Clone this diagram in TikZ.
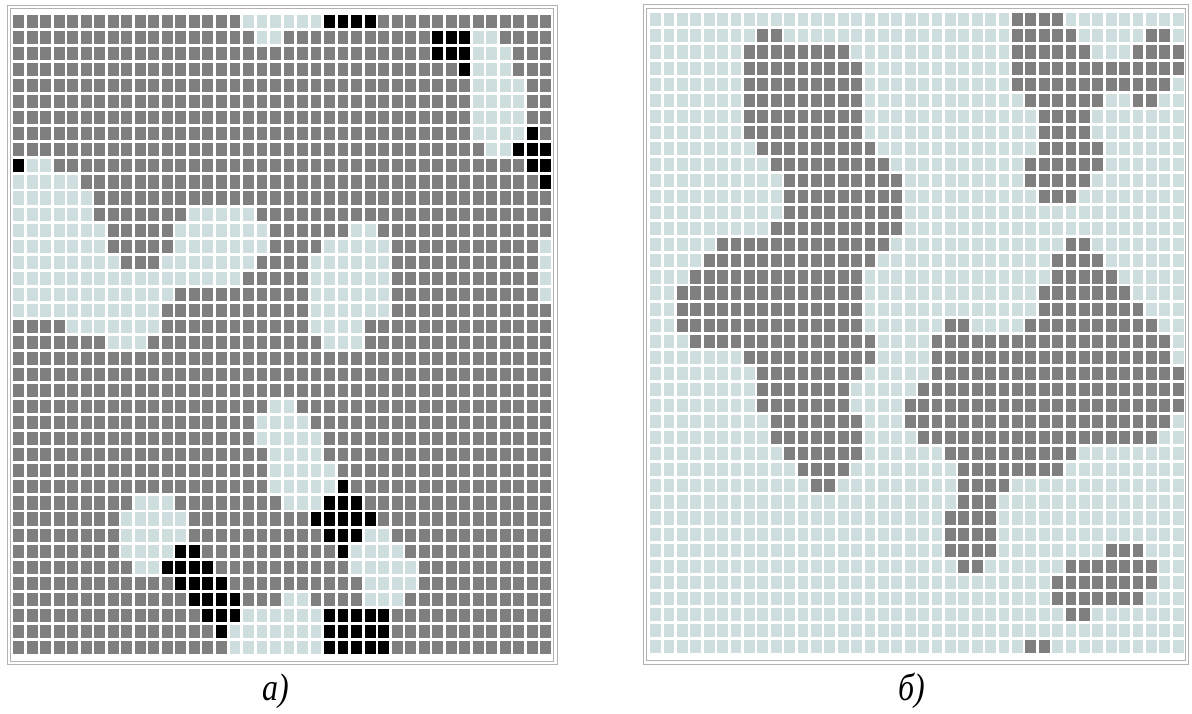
\documentclass[tikz,border=0pt]{standalone}
\usepackage{fontspec}
\setmainfont{Liberation Serif}
\definecolor{dk}{RGB}{127,127,127}
\definecolor{lt}{RGB}{206,222,223}
\definecolor{frm}{RGB}{178,178,178}
\newcommand\cellA[3]{\fill[#1] ({13.2+13.52*#3},{14.9+16.05*#2}) rectangle ++(10.8,13.1);}
\newcommand\cellB[3]{\fill[#1] ({650.2+13.4*#3},{13.3+16.07*#2}) rectangle ++(10.7,13.1);}
\tikzset{lbl/.style={inner sep=0pt, anchor=base, font=\fontsize{32}{34}\selectfont\itshape}}
\begin{document}
\begin{tikzpicture}[x=1pt,y=-1pt]
\useasboundingbox (0,0) rectangle (1192,713);
% ---------- grid a ----------
\draw[frm, line width=0.9pt] (7,5) rectangle (557,664.5);
\draw[frm, line width=0.9pt] (10.2,8.2) rectangle (553.8,661);
\foreach \r in {0,...,39}{\foreach \c in {0,...,39}{\cellA{dk}{\r}{\c}}}
\foreach \r/\a/\b in {0/17/22, 1/18/19, 1/34/35, 2/34/36, 3/34/36, 4/34/37, 5/34/37, 6/34/37, 7/34/37, 8/35/36,
  9/1/2, 10/0/4, 11/0/5, 12/0/5, 12/13/17, 13/0/6, 13/12/18, 13/25/26,
  14/0/6, 14/12/18, 14/23/27, 14/39/39, 15/0/7, 15/11/17, 15/22/27, 15/39/39,
  16/0/16, 16/22/27, 16/39/39, 17/0/11, 17/22/27, 17/39/39, 18/0/10, 18/22/27,
  19/4/10, 19/22/25, 20/7/9, 20/23/25,
  24/19/20, 25/18/21, 26/18/22, 27/19/22, 28/19/23, 29/19/23,
  30/9/11, 30/20/22, 31/8/12, 32/8/12, 32/26/27, 33/8/11, 33/25/28,
  34/9/10, 34/25/29, 35/26/29, 36/20/21, 36/26/28, 37/17/22, 38/16/22, 39/16/22}
  {\foreach \c in {\a,...,\b}{\cellA{lt}{\r}{\c}}}
\foreach \r/\a/\b in {0/23/26, 1/31/33, 2/31/33, 3/33/33, 7/38/38, 8/37/39, 9/0/0, 9/38/39, 10/39/39,
  29/24/24, 30/23/25, 31/22/26, 32/23/25, 33/12/13, 33/24/24, 34/11/14, 35/12/15,
  36/13/16, 37/14/16, 37/23/27, 38/15/15, 38/23/27, 39/23/27}
  {\foreach \c in {\a,...,\b}{\cellA{black}{\r}{\c}}}
% ---------- grid b ----------
\draw[frm, line width=0.9pt] (643,4.5) rectangle (1188,664);
\draw[frm, line width=0.9pt] (646.5,8) rectangle (1185,660.5);
\foreach \r in {0,...,39}{\foreach \c in {0,...,39}{\cellB{lt}{\r}{\c}}}
\foreach \r/\a/\b in {0/27/30, 1/8/9, 1/27/31, 1/37/38, 2/7/14, 2/27/32, 2/36/39,
  3/7/15, 3/27/39, 4/7/15, 4/27/38, 5/7/15, 5/28/33, 5/36/37, 6/7/15, 6/29/32,
  7/7/15, 7/29/32, 8/8/16, 8/29/33, 9/9/17, 9/28/33, 10/10/18, 10/28/32,
  11/10/18, 11/29/31, 12/10/18, 13/9/18, 14/5/17, 14/31/32, 15/4/16, 15/30/33,
  16/3/15, 16/30/34, 17/2/15, 17/29/35, 18/2/15, 18/29/36, 19/2/15, 19/22/23, 19/28/37,
  20/3/16, 20/21/38, 21/7/16, 21/21/38, 22/8/15, 22/21/39, 23/8/14, 23/20/39,
  24/8/14, 24/19/39, 25/9/15, 25/19/38, 26/9/15, 26/20/37, 27/10/15, 27/22/31,
  28/11/14, 28/23/30, 29/12/13, 29/23/26, 30/23/25, 31/22/25, 32/22/25,
  33/22/25, 33/34/36, 34/23/24, 34/31/37, 35/30/37, 36/30/36, 37/31/32, 39/28/29}
  {\foreach \c in {\a,...,\b}{\cellB{dk}{\r}{\c}}}
% ---------- labels ----------
\node[lbl] (la) at (276,700) {\scalebox{1}[1.2]{а)}};
\node[lbl] (lb) at (912,700) {\scalebox{1}[1.2]{б)}};
\end{tikzpicture}
\end{document}
